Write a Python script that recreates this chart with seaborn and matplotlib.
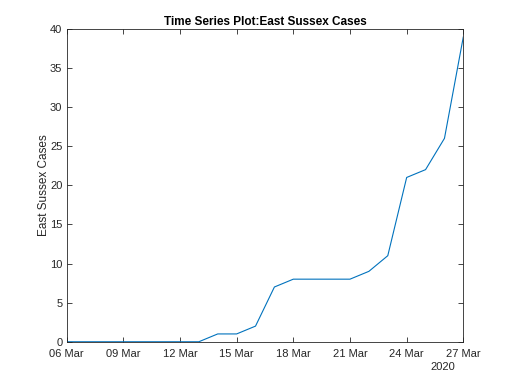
import pandas as pd
import matplotlib
matplotlib.use("Agg")
import matplotlib.pyplot as plt
import matplotlib.dates as mdates
import seaborn as sns

# daily cumulative cases, 06 Mar - 27 Mar 2020
dates = pd.date_range("2020-03-06", "2020-03-27", freq="D")
cases = [0, 0, 0, 0, 0, 0, 0, 0, 1, 1, 2, 7, 8, 8, 8, 8, 9, 11, 21, 22, 26, 39]
yticks = [0, 5, 10, 15, 20, 25, 30, 35, 40]

df = pd.DataFrame({"date": dates, "cases": cases})

sns.set_style("ticks")
plt.rcParams["font.family"] = ["Liberation Sans", "DejaVu Sans"]

fig = plt.figure(figsize=(5.12, 3.84), dpi=100)
ax = fig.add_axes([0.13, 0.11, 0.775, 0.815])
sns.lineplot(data=df, x="date", y="cases", ax=ax, color="#0072BD", linewidth=0.8)

ax.set_xlim(dates[0], dates[-1])
ax.set_ylim(0, 40)
ax.set_yticks(yticks)
ax.xaxis.set_major_locator(mdates.DayLocator(interval=3))
ax.xaxis.set_major_formatter(mdates.DateFormatter("%d %b"))

for s in ax.spines.values():
    s.set_visible(True)
    s.set_color("#262626")
    s.set_linewidth(0.6)
ax.tick_params(direction="in", length=3.5, width=0.6, color="#262626",
               labelsize=8, labelcolor="#262626", top=True, right=True, pad=3)
ax.tick_params(axis="x", pad=5)

ax.set_xlabel("")
ax.set_ylabel("East Sussex Cases", fontsize=8.5, color="#262626", labelpad=0)
ax.set_title("Time Series Plot:East Sussex Cases", fontsize=8.5, fontweight="bold",
             color="black", pad=3)
fig.text(0.865, 0.043, "2020", fontsize=8, color="#262626", ha="center", va="center")

fig.savefig("out.png", dpi=100)
